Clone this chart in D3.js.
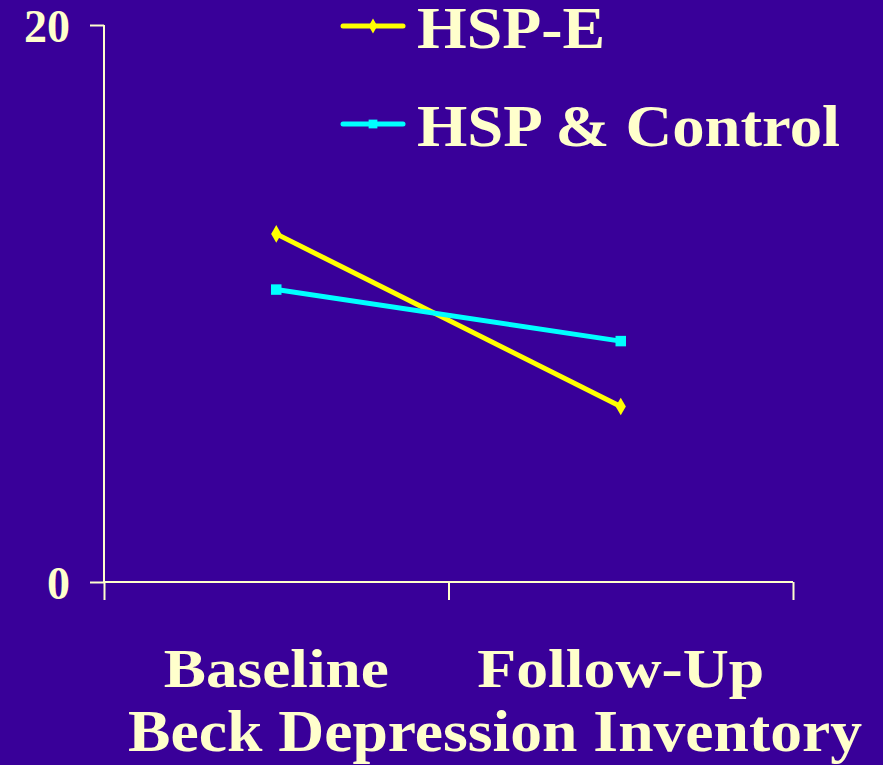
<!DOCTYPE html>
<html>
<head>
<meta charset="utf-8">
<script src="https://cdn.jsdelivr.net/npm/d3@7"></script>
<style>
  body { margin: 0; background: #390099; }
  text { font-family: "Liberation Serif", "Times New Roman", serif; font-weight: bold; fill: #ffffcc; }
</style>
</head>
<body>
<script>
// data
var categories = ['Baseline', 'Follow-Up'];
var seriesNames = ['HSP-E', 'HSP & Control'];
var hspE = [12.5, 6.3];
var hspControl = [10.5, 8.65];
var yTicks = [0, 20];
var axisTitle = 'Beck Depression Inventory';

var width = 883;
var height = 765;
var ink = '#ffffcc';

var svg = d3.select('body').append('svg')
            .attr('width', width)
            .attr('height', height)
            .style('background-color', '#390099');

var x = d3.scaleLinear().domain([0, categories.length]).range([104, 793]);
var y = d3.scaleLinear().domain([0, 20]).range([582, 25]);

// y axis
var yAxis = svg.append('g')
  .attr('transform', 'translate(104,0)')
  .call(d3.axisLeft(y).tickValues(yTicks).tickSize(14).tickPadding(20).tickFormat(d3.format('d')));
yAxis.select('.domain').attr('stroke', ink).attr('stroke-width', 2).attr('d', 'M0,' + y(20) + 'V' + y(0));
yAxis.selectAll('.tick line').attr('stroke', ink).attr('stroke-width', 2);
yAxis.selectAll('.tick text')
  .style('font-size', '46px')
  .attr('dy', '0.35em')
  .style('fill', ink);

// x axis, ticks between categories
var xAxis = svg.append('g')
  .attr('transform', 'translate(0,' + y(0) + ')')
  .call(d3.axisBottom(x).tickValues(d3.range(categories.length + 1)).tickSize(18).tickFormat(''));
xAxis.select('.domain').attr('stroke', ink).attr('stroke-width', 2).attr('d', 'M' + x(0) + ',0H' + x(categories.length));
xAxis.selectAll('.tick line').attr('stroke', ink).attr('stroke-width', 2);

// category labels
var catWidths = [225, 287];
svg.selectAll('text.cat')
  .data(categories)
  .enter().append('text')
  .attr('class', 'cat')
  .attr('x', function(d, i) { return x(i + 0.5) - catWidths[i] / 2; })
  .attr('y', 687)
  .attr('textLength', function(d, i) { return catWidths[i]; })
  .attr('lengthAdjust', 'spacingAndGlyphs')
  .style('font-size', '55px')
  .text(function(d) { return d; });

svg.append('text')
  .attr('x', 128)
  .attr('y', 751)
  .attr('textLength', 734)
  .attr('lengthAdjust', 'spacingAndGlyphs')
  .style('font-size', '59px')
  .text(axisTitle);

// series
var series = [
  { name: seriesNames[0], values: hspE, color: '#ffff00', shape: d3.symbolDiamond, size: 90 },
  { name: seriesNames[1], values: hspControl, color: '#00ffff', shape: d3.symbolSquare, size: 110 }
];

var line = d3.line()
  .x(function(d, i) { return x(i + 0.5); })
  .y(function(d) { return y(d); });

series.forEach(function(s) {
  svg.append('path')
    .attr('d', line(s.values))
    .attr('fill', 'none')
    .attr('stroke', s.color)
    .attr('stroke-width', 5);
  svg.selectAll(null)
    .data(s.values)
    .enter().append('path')
    .attr('d', d3.symbol().type(s.shape).size(s.size))
    .attr('transform', function(d, i) { return 'translate(' + x(i + 0.5) + ',' + y(d) + ')'; })
    .attr('fill', s.color);
});

// legend
var legendWidths = [188, 423];
var legend = svg.selectAll('g.legend')
  .data(series)
  .enter().append('g')
  .attr('class', 'legend')
  .attr('transform', function(d, i) { return 'translate(0,' + (26 + i * 98) + ')'; });

legend.append('line')
  .attr('x1', 343).attr('x2', 403)
  .attr('stroke', function(d) { return d.color; })
  .attr('stroke-width', 5)
  .attr('stroke-linecap', 'round');
legend.append('path')
  .attr('d', function(d) { return d3.symbol().type(d.shape).size(d.size * 0.7)(); })
  .attr('transform', 'translate(373,0)')
  .attr('fill', function(d) { return d.color; });
legend.append('text')
  .attr('x', 417)
  .attr('y', 22)
  .attr('textLength', function(d, i) { return legendWidths[i]; })
  .attr('lengthAdjust', 'spacingAndGlyphs')
  .style('font-size', '59px')
  .text(function(d) { return d.name; });
</script>
</body>
</html>
